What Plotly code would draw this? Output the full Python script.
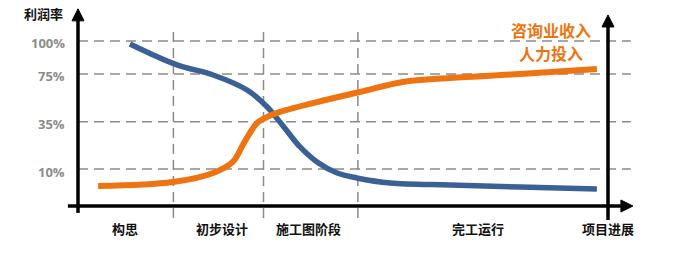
import plotly.graph_objects as go

# ---------------- data ----------------
# x: project progress (0 = start at y-axis, 100 = end at right axis)
# y: level on the chart scale (0 = x-axis, 100 = "100%" line)
blue_x = [9.8, 18.7, 25.5, 31.9, 35.7, 38.7, 41.9, 45.1, 48.9, 52.6, 58.9, 70.2, 83.4, 97.9]
blue_y = [98.2, 85.5, 79.4, 70.3, 60.0, 48.5, 35.8, 26.7, 20.0, 17.0, 13.9, 12.7, 11.5, 10.3]
orange_x = [3.8, 17.9, 25.5, 29.2, 31.1, 32.3, 33.8, 35.7, 38.1, 45.1, 53.2, 61.3, 70.2, 83.4, 97.9]
orange_y = [12.1, 14.5, 20.0, 26.7, 37.0, 43.6, 50.3, 54.0, 57.0, 63.0, 69.1, 75.2, 77.6, 80.0, 83.0]

tick_vals = [100, 80, 51, 22.4]
tick_labels = ["100%", "75%", "35%", "10%"]
phase_bounds = [18.0, 35.0, 52.8]
phase_x = [8.9, 27.2, 43.4, 75.5, 100.0]
phase_labels = ["构思", "初步设计", "施工图阶段", "完工运行", "项目进展"]
y_title = "利润率"
curve_labels = ["咨询业收入", "人力投入"]

BLUE = "#3B6096"
ORANGE = "#EE7411"
GRID = "#8a8a8a"
FONT = "Noto Sans CJK SC"

# px per unit
PXX = 5.3
PXY = 1.65

fig = go.Figure()
fig.add_trace(go.Scatter(x=blue_x, y=blue_y, mode="lines",
                         line=dict(color=BLUE, width=5.5, shape="spline", smoothing=1.0),
                         hoverinfo="skip"))
fig.add_trace(go.Scatter(x=orange_x, y=orange_y, mode="lines",
                         line=dict(color=ORANGE, width=6, shape="spline", smoothing=1.0),
                         hoverinfo="skip"))

shapes = []
# horizontal dashed gridlines
for v in tick_vals:
    shapes.append(dict(type="line", x0=0, x1=104.3, y0=v, y1=v, layer="below",
                       line=dict(color=GRID, width=1.5, dash="10px,6px")))
# vertical dashed phase lines
for b in phase_bounds:
    shapes.append(dict(type="line", x0=b, x1=b, y0=-7.3, y1=105.5, layer="below",
                       line=dict(color=GRID, width=1.5, dash="10px,6px")))

# axes (black thick lines with arrowheads)
AX_W = 3.5
hw_x = 6 / PXX
hw_y = 6 / PXY
hl_x = 12 / PXX
hl_y = 12 / PXY
# left y axis
top_left = 119.5
shapes.append(dict(type="line", x0=0, x1=0, y0=-4.2, y1=top_left - hl_y + 1,
                   line=dict(color="black", width=AX_W)))
shapes.append(dict(type="path",
                   path=f"M {-hw_x},{top_left - hl_y} L {hw_x},{top_left - hl_y} L 0,{top_left} Z",
                   fillcolor="black", line=dict(color="black", width=1)))
# right axis
top_right = 115.8
shapes.append(dict(type="line", x0=100, x1=100, y0=-8.5, y1=top_right - hl_y + 1,
                   line=dict(color="black", width=AX_W)))
shapes.append(dict(type="path",
                   path=f"M {100 - hw_x},{top_right - hl_y} L {100 + hw_x},{top_right - hl_y} L 100,{top_right} Z",
                   fillcolor="black", line=dict(color="black", width=1)))
# x axis
right_end = 104.7
shapes.append(dict(type="line", x0=-1.9, x1=right_end - hl_x + 0.3, y0=0, y1=0,
                   line=dict(color="black", width=AX_W)))
shapes.append(dict(type="path",
                   path=f"M {right_end - hl_x},{-hw_y} L {right_end - hl_x},{hw_y} L {right_end},0 Z",
                   fillcolor="black", line=dict(color="black", width=1)))

annotations = []
# y tick labels
for v, t in zip(tick_vals, tick_labels):
    annotations.append(dict(x=-2.0, y=v - 1.5, text=t, showarrow=False, xanchor="right",
                            yanchor="middle",
                            font=dict(family="Open Sans", size=13, color="#8c8c8c", weight="bold")))
# y title
annotations.append(dict(x=-6.5, y=116.5, text=y_title, showarrow=False, xanchor="center",
                        yanchor="middle", font=dict(family=FONT, size=13, color="#111", weight="bold")))
# phase labels
for xx, t in zip(phase_x, phase_labels):
    annotations.append(dict(x=xx, y=-13.5, text=t, showarrow=False, xanchor="center",
                            yanchor="middle",
                            font=dict(family=FONT, size=13, color="#111", weight="bold")))
# curve labels
annotations.append(dict(x=89.3, y=106.5, text=curve_labels[0], showarrow=False, xanchor="center",
                        yanchor="middle", font=dict(family=FONT, size=16, color=ORANGE, weight="bold")))
annotations.append(dict(x=89.3, y=92.5, text=curve_labels[1], showarrow=False, xanchor="center",
                        yanchor="middle", font=dict(family=FONT, size=16, color=ORANGE, weight="bold")))

fig.update_layout(
    width=674, height=259,
    margin=dict(l=0, r=0, t=0, b=0),
    paper_bgcolor="white", plot_bgcolor="white",
    showlegend=False,
    xaxis=dict(range=[-78 / PXX, (674 - 78) / PXX], visible=False, fixedrange=True),
    yaxis=dict(range=[-(259 - 206) / PXY, 206 / PXY], visible=False, fixedrange=True),
    shapes=shapes,
    annotations=annotations,
)

fig.write_html("out.html")
